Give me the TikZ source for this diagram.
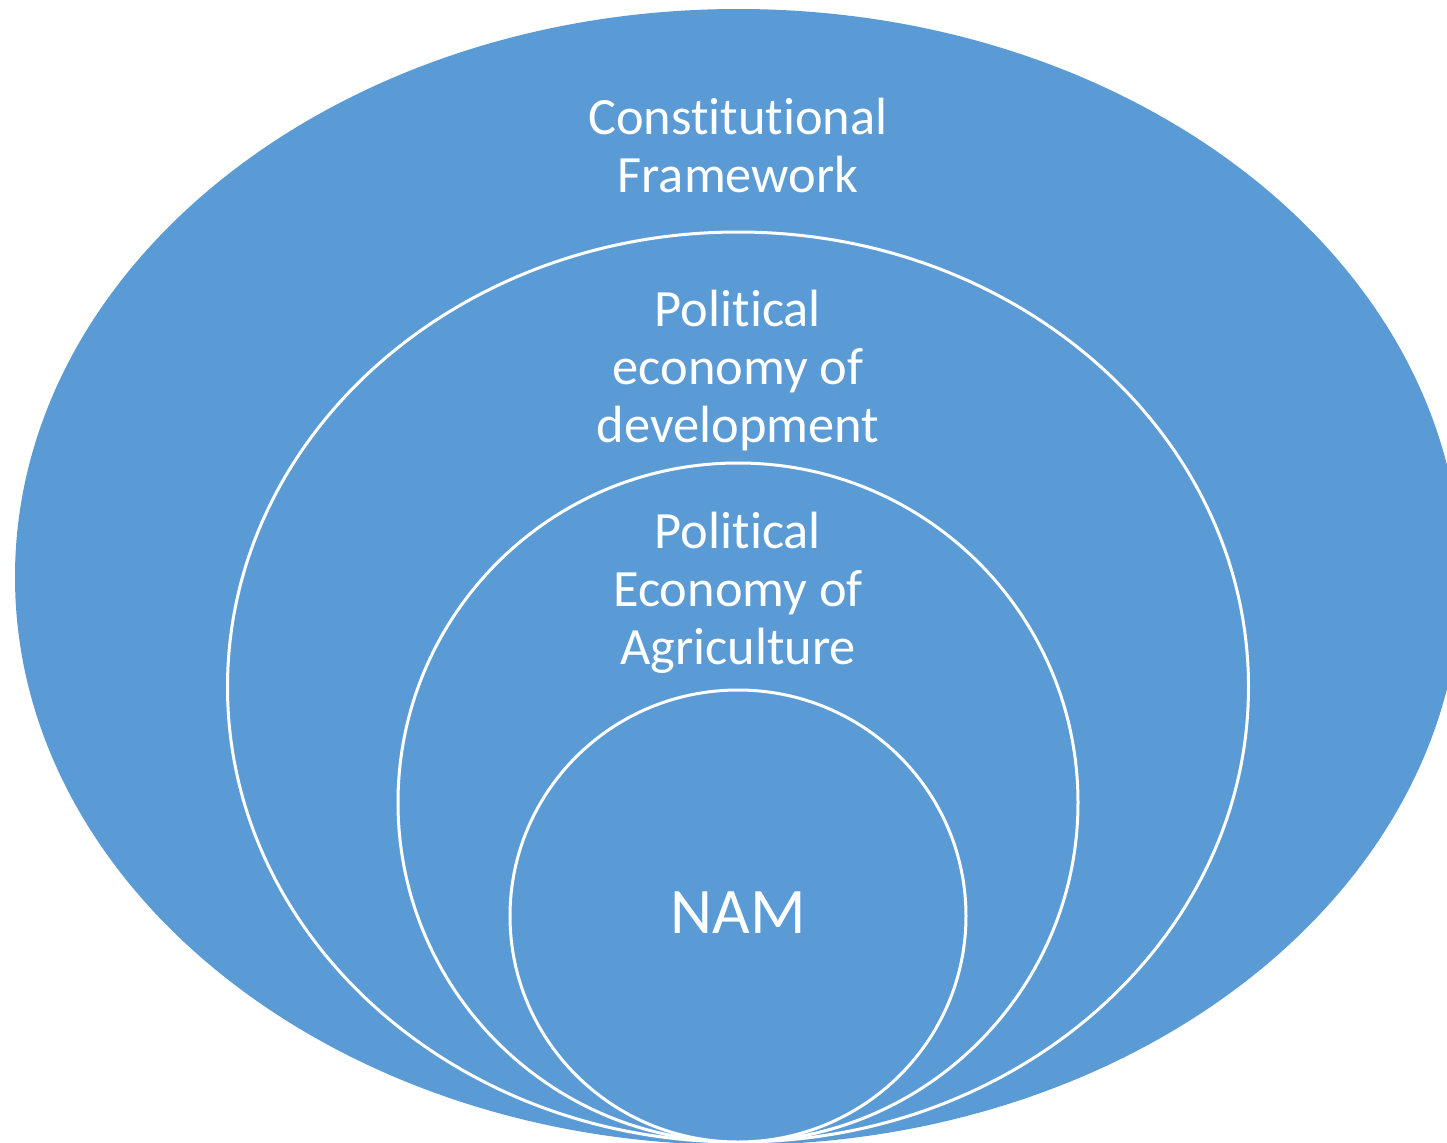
\documentclass[tikz,border=0pt]{standalone}
\usepackage{fontspec}
\setmainfont{Carlito}[Ligatures={NoCommon}]
\usepackage{xcolor}
\usepackage{tikz}
\usetikzlibrary{shapes,positioning}

\definecolor{ringblue}{HTML}{5B9BD5}

\begin{document}
\begin{tikzpicture}[
    x=0.5pt, y=-0.5pt,
    ring/.style={ellipse, draw=white, line width=1.5pt, fill=ringblue, inner sep=0pt},
    lbl/.style={text=white, align=center, inner sep=0pt, font=\fontsize{26.2}{29}\selectfont}
]
    \clip (0,0) rectangle (1447,1142);

    \node[ring, draw=none, minimum width=723pt, minimum height=568pt] (frame) at (738,577) {};
    \node[ring, minimum width=510.5pt, minimum height=455pt] (devel) at (738,687) {};
    \node[ring, minimum width=340pt, minimum height=339.5pt] (agri) at (738,802.5) {};
    \node[ring, minimum width=228pt, minimum height=226pt] (nam) at (738,916) {};

    \node[lbl, below=45pt of frame.north] (frametxt) {Constitutional\\Framework};
    \node[lbl, below=29.5pt of devel.north] (develtxt) {Political\\economy of\\development};
    \node[lbl, below=25pt of agri.north] (agritxt) {Political\\Economy of\\Agriculture};
    \node[lbl, font=\fontsize{32.5}{39}\selectfont, below=101.5pt of nam.north] (namtxt) {NAM};

\end{tikzpicture}
\end{document}
